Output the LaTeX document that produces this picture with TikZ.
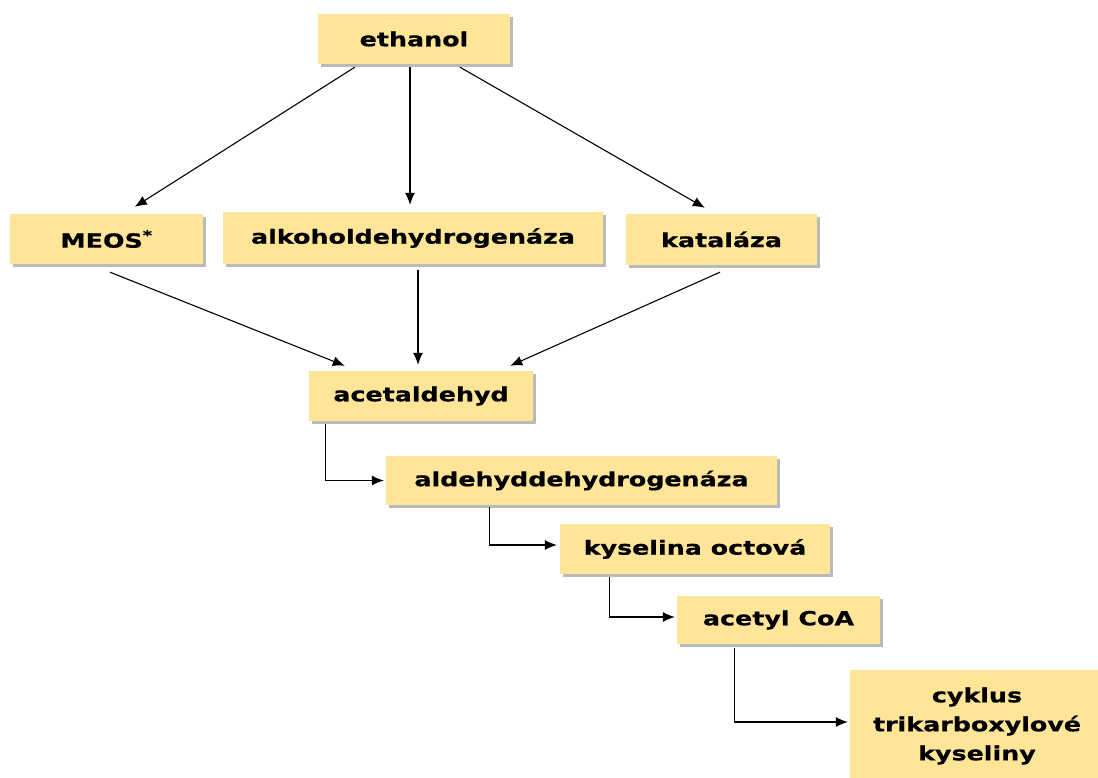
\documentclass[tikz,border=0pt]{standalone}
\usepackage{fontspec}
\newfontfamily\boxfont[FakeStretch=1.30,FakeBold=0.6]{DejaVu Sans}
\usetikzlibrary{arrows.meta,shadows,calc}
\definecolor{boxfill}{HTML}{FFE597}
\begin{document}
\begin{tikzpicture}[x=1pt,y=-1pt,
  box/.style={draw=none,fill=boxfill,inner sep=0pt,align=center,
    font=\boxfont\bfseries\fontsize{19.5}{29}\selectfont,
    drop shadow={shadow xshift=3pt,shadow yshift=-3pt,opacity=0.45,fill=black!60}},
  arr/.style={draw=black,line width=1.1pt,-{Latex[length=12pt,width=10pt]}}]
\useasboundingbox (0,0) rectangle (1098,778);
\begin{scope}
\clip (0,0) rectangle (1098,778);
\node[box,minimum width=192pt,minimum height=50pt] (ethanol) at (414,39) {ethanol};
\node[box,minimum width=193pt,minimum height=50pt] (meos) at (106.5,239) {MEOS\textsuperscript{*}};
\node[box,minimum width=380pt,minimum height=52pt] (alk) at (413,238) {alkoholdehydrogenáza};
\node[box,minimum width=191pt,minimum height=51pt] (kat) at (721.5,239.5) {kataláza};
\node[box,minimum width=224pt,minimum height=50pt] (acet) at (421,396) {acetaldehyd};
\node[box,minimum width=391pt,minimum height=49pt] (aldh) at (581.5,480.5) {aldehyddehydrogenáza};
\node[box,minimum width=270pt,minimum height=50pt] (kys) at (695,549) {kyselina octová};
\node[box,minimum width=203pt,minimum height=48pt] (acoa) at (778.5,620) {acetyl CoA};
\node[box,minimum width=254pt,minimum height=112pt] (tca) at (977,726) {cyklus\\trikarboxylové\\kyseliny};
\end{scope}
\draw[arr] ($(ethanol.south west)+(37,3)$) -- ($(meos.north west)+(125,-7)$);
\draw[arr] ($(ethanol.south)+(-4,3)$) -- ($(alk.north)+(-3,-7)$);
\draw[arr] ($(ethanol.south)+(46,3)$) -- ($(kat.north west)+(79,-6)$);
\draw[arr] ($(meos.south)+(3.5,8)$) -- ($(acet.north west)+(36,-5)$);
\draw[arr] ($(alk.south)+(5,6)$) -- ($(acet.north)+(-3,-6)$);
\draw[arr] ($(kat.south)+(-1.5,7)$) -- ($(acet.north east)+(-23,-5)$);
\draw[arr] ($(acet.south west)+(17,3)$) |- ($(aldh.west)+(-2,0)$);
\draw[arr] ($(aldh.south west)+(104,2)$) |- ($(kys.west)+(-3,-4)$);
\draw[arr] ($(kys.south west)+(50,3)$) |- ($(acoa.west)+(-2,-3)$);
\draw[arr] ($(acoa.south west)+(58,4)$) |- ($(tca.west)+(-2,-4)$);
\end{tikzpicture}
\end{document}
